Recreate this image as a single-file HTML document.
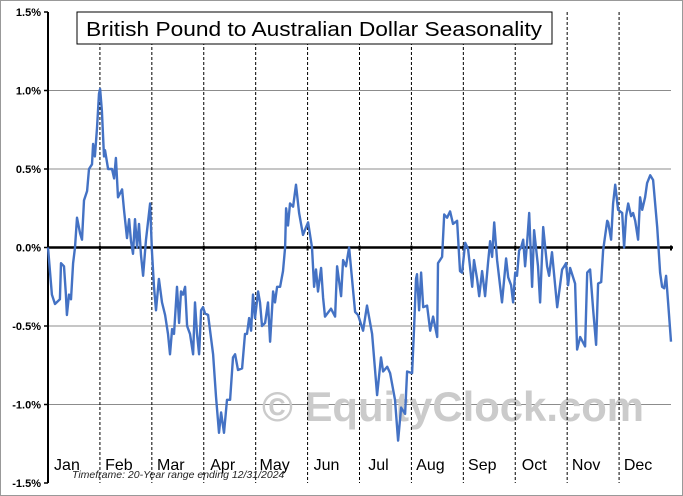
<!DOCTYPE html>
<html><head><meta charset="utf-8"><style>
body{margin:0;background:#fff}
svg{display:block;font-family:"Liberation Sans",Arial,sans-serif}
</style></head><body>
<svg id="chart" width="683" height="496" viewBox="0 0 683 496">
<rect x="0.5" y="0.5" width="682" height="495" fill="#fff" stroke="#999"/>
<g id="grid"></g>
<text x="262" y="421" font-size="42" font-weight="bold" fill="#cbcbcb" textLength="382" lengthAdjust="spacingAndGlyphs">© EquityClock.com</text>
<g id="months"></g>
<g id="axes"></g>
<path id="series" fill="none" stroke="#4472c4" stroke-width="2.4" stroke-linejoin="round"/>
<rect x="77" y="12" width="475" height="32" fill="#fff" stroke="#000"/>
<text x="86" y="36" font-size="20" fill="#000" textLength="456" lengthAdjust="spacingAndGlyphs">British Pound to Australian Dollar Seasonality</text>
<text x="72" y="478" font-size="10.5" font-style="italic" fill="#222">Timeframe: 20-Year range ending 12/31/2024</text>
</svg>
<script>
const monthLabels=["Jan","Feb","Mar","Apr","May","Jun","Jul","Aug","Sep","Oct","Nov","Dec"];
const yTicks=[1.5,1.0,0.5,0.0,-0.5,-1.0,-1.5];
const yTickLabels=["1.5%","1.0%","0.5%","0.0%","-0.5%","-1.0%","-1.5%"];
const days=[0,2.3,4.1,7.0,7.6,9.4,10.5,11.1,12.3,13.5,14.7,15.8,17.0,18.8,19.9,21.1,22.9,24.0,25.8,26.4,27.5,28.7,29.9,30.5,31.6,32.8,33.4,35.2,37.5,38.7,39.8,41.0,43.4,44.5,46.3,47.5,48.6,49.8,51.0,52.2,53.3,54.5,55.7,57.4,59.8,60.9,62.1,63.3,65.0,66.8,68.6,70.3,71.5,72.7,73.8,75.6,76.8,77.9,79.1,80.3,81.5,83.2,85.0,86.1,87.3,88.5,89.7,90.8,92.0,93.8,96.7,98.4,100.2,101.4,103.1,104.9,106.7,108.4,109.6,111.3,113.7,115.4,116.6,117.8,119.0,120.1,121.3,123.1,124.2,125.4,127.2,128.9,130.1,131.9,133.0,134.2,136.0,137.7,138.9,139.5,140.6,141.8,143.6,145.3,147.1,149.4,151.2,152.4,154.7,155.9,157.0,158.2,160.0,161.2,162.3,165.8,168.2,169.4,171.7,172.9,174.6,176.4,179.9,181.7,184.6,186.9,189.9,192.8,195.1,196.3,198.7,200.4,203.3,205.1,206.9,209.2,210.4,213.3,214.5,215.6,216.2,217.4,218.6,219.8,222.1,223.9,225.6,228.0,228.5,230.9,232.1,233.8,235.6,237.3,239.7,241.4,242.6,244.4,246.1,248.5,249.6,251.4,252.6,254.3,256.1,257.8,259.0,260.2,261.4,263.1,266.0,268.4,269.6,271.3,272.5,273.7,274.8,276.0,277.2,278.4,279.5,280.7,281.9,283.6,284.8,287.1,288.3,290.1,292.4,293.6,295.3,298.3,301.2,302.4,303.5,304.7,305.9,308.8,310.0,311.8,314.7,315.9,317.6,319.4,321.1,322.3,324.1,325.2,327.6,328.2,329.9,331.1,332.3,334.0,336.4,337.5,338.7,339.9,341.6,342.8,344.0,345.7,346.9,348.1,349.8,351.0,352.8,354.5,356.9,358.6,359.8,361.0,362.1,363.3,365];
const values=[0,-0.3,-0.36,-0.33,-0.1,-0.12,-0.3,-0.43,-0.3,-0.33,-0.1,0.0,0.19,0.09,0.05,0.3,0.36,0.5,0.53,0.66,0.58,0.76,0.98,1.01,0.87,0.58,0.62,0.5,0.5,0.44,0.57,0.32,0.37,0.24,0.06,0.18,0.04,-0.04,0.18,0.0,0.15,-0.05,-0.18,0.05,0.28,-0.02,-0.25,-0.4,-0.2,-0.35,-0.43,-0.55,-0.68,-0.52,-0.55,-0.25,-0.48,-0.28,-0.3,-0.25,-0.5,-0.55,-0.68,-0.35,-0.55,-0.68,-0.4,-0.38,-0.42,-0.43,-0.68,-0.95,-1.18,-1.05,-1.18,-0.97,-0.97,-0.7,-0.68,-0.78,-0.77,-0.55,-0.55,-0.45,-0.53,-0.3,-0.45,-0.28,-0.35,-0.5,-0.48,-0.35,-0.6,-0.28,-0.35,-0.25,-0.25,-0.15,0.0,0.25,0.14,0.28,0.26,0.4,0.22,0.08,0.13,0.16,0.0,-0.25,-0.14,-0.28,-0.13,-0.32,-0.44,-0.39,-0.44,-0.12,-0.31,-0.08,-0.12,0.0,-0.41,-0.43,-0.53,-0.37,-0.55,-0.94,-0.7,-0.79,-0.76,-0.8,-0.97,-1.23,-1.02,-1.06,-0.79,-0.8,-0.51,-0.2,-0.17,-0.4,-0.16,-0.38,-0.37,-0.53,-0.44,-0.57,-0.1,-0.06,0.21,0.19,0.23,0.15,0.17,-0.15,-0.16,0.03,-0.01,-0.25,-0.08,-0.2,-0.31,-0.15,-0.31,-0.1,0.04,-0.06,0.16,-0.08,-0.35,-0.07,-0.19,-0.24,-0.35,-0.16,-0.18,-0.02,0.0,0.05,-0.12,0.03,0.22,-0.25,0.11,-0.12,-0.35,0.13,-0.12,-0.18,-0.03,-0.38,-0.14,-0.12,-0.1,-0.24,-0.13,-0.23,-0.65,-0.57,-0.63,-0.16,-0.14,-0.4,-0.62,-0.23,-0.22,-0.02,0.17,0.16,0.05,0.28,0.4,0.24,0.22,0.0,0.2,0.28,0.2,0.22,0.17,0.05,0.32,0.24,0.32,0.41,0.46,0.43,0.13,-0.16,-0.25,-0.26,-0.18,-0.35,-0.6,-0.62];
const X0=48,X1=671,Y0=247.5,PX=157;
const xs=d=>X0+d/365*(X1-X0);
const ys=v=>Y0-v*PX;
const NS="http://www.w3.org/2000/svg";
function mk(tag,attrs,parent,txt){const e=document.createElementNS(NS,tag);for(const k in attrs)e.setAttribute(k,attrs[k]);if(txt!=null)e.textContent=txt;parent.appendChild(e);return e;}
const grid=document.getElementById('grid'),axes=document.getElementById('axes'),months=document.getElementById('months');
yTicks.forEach((t,i)=>{
  const y=ys(t);
  if(t!==0&&Math.abs(t)<1.5){const l=mk('line',{x1:X0,x2:X1,y1:y,y2:y,stroke:'#8c8c8c','stroke-width':1},grid);
  
  }
  const tk=mk('line',{x1:X0-4,x2:X0,y1:y,y2:y,stroke:'#000','stroke-width':1.5},axes);
  
  
  const tx=mk('text',{x:X0-7,y:y+4,'text-anchor':'end','font-size':11,'font-weight':'bold',fill:'#000'},axes,yTickLabels[i]);
  
  
});
monthLabels.forEach((m,i)=>{
  const xa=xs(i*365/12),xb=xs((i+1)*365/12);
  if(i>0){const l=mk('line',{x1:xa,x2:xa,y1:ys(1.5),y2:ys(-1.5),stroke:'#000','stroke-width':1,'stroke-dasharray':'3,2'},months);
  
  }
  const tk=mk('line',{x1:xb,x2:xb,y1:Y0-2,y2:Y0+3,stroke:'#000','stroke-width':2},axes);
  
  
  const t=mk('text',{x:(xa+xb)/2-7,y:470,'text-anchor':'middle','font-size':16,fill:'#000'},months,m);
  
  
});
const zl=mk('line',{x1:X0,x2:X1+2,y1:Y0,y2:Y0,stroke:'#000','stroke-width':2.5},axes);


const ya=mk('line',{x1:X0,x2:X0,y1:ys(1.5),y2:ys(-1.5),stroke:'#000','stroke-width':2},axes);


document.getElementById('series').setAttribute('d',days.map((d,i)=>(i?'L':'M')+xs(d).toFixed(1)+','+ys(values[i]).toFixed(1)).join(''));
</script>
</body></html>
